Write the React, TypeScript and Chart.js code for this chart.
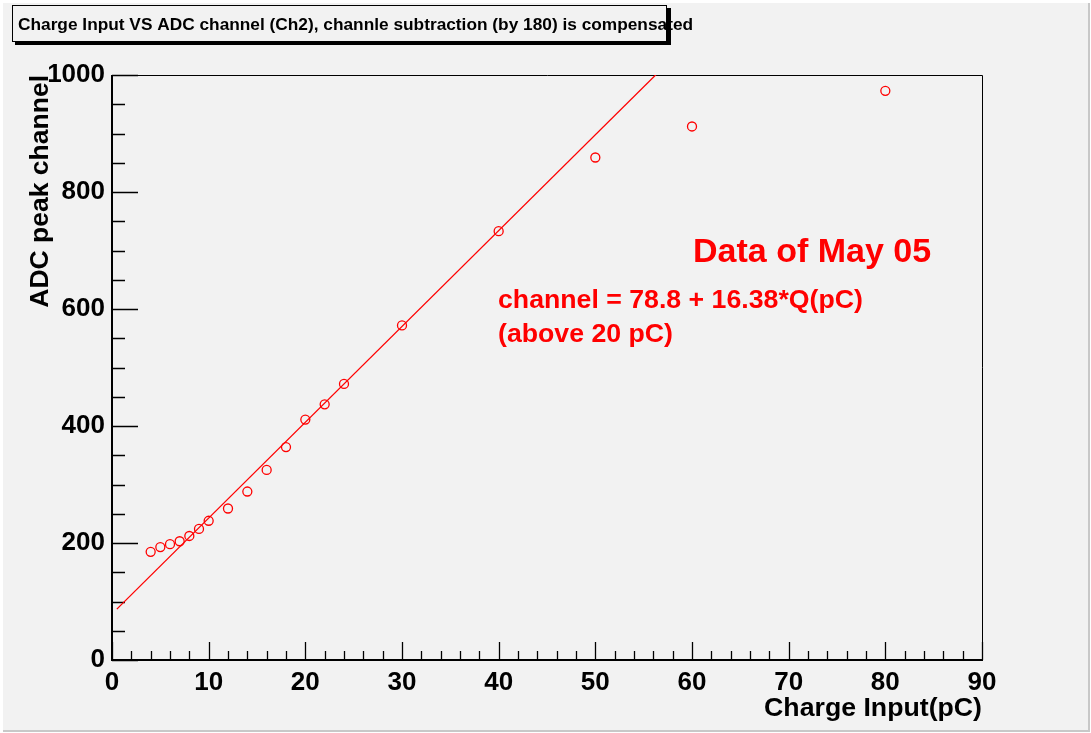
import React, { useEffect, useRef } from "react";
import { Chart, registerables } from "chart.js";

Chart.register(...registerables);

// ---- data ----
const chargeInput = [4, 5, 6, 7, 8, 9, 10, 12, 14, 16, 18, 20, 22, 24, 30, 40, 50, 60, 80];
const adcPeak = [185, 193, 198, 203, 212, 224, 238, 259, 288, 325, 364, 411, 437, 472, 572, 733, 859, 912, 973];
const fitIntercept = 78.8;
const fitSlope = 16.38;
const fitRange = [0.5, 60];
const xTicks = [0, 10, 20, 30, 40, 50, 60, 70, 80, 90];
const yTicks = [0, 200, 400, 600, 800, 1000];
const xMinorStep = 2;
const yMinorStep = 50;
const chartTitle = "Charge Input VS ADC channel (Ch2), channle subtraction (by 180) is compensated";
const xTitle = "Charge Input(pC)";
const yTitle = "ADC peak channel";
const noteMain = "Data of May 05";
const noteFit = "channel = 78.8 + 16.38*Q(pC)";
const noteRange = "(above 20 pC)";

const FAMILY = "'Liberation Sans', Arial, Helvetica, sans-serif";
const BG = "#f2f2f2";
const RED = "#ff0000";

const rootStyle = {
  id: "rootStyle",
  beforeDraw(chart: any) {
    const ctx = chart.ctx;
    const W = chart.width;
    const H = chart.height;
    ctx.save();
    ctx.fillStyle = "#ffffff";
    ctx.fillRect(0, 0, W, H);
    ctx.fillStyle = BG;
    ctx.fillRect(3, 3, W - 4, H - 4);
    ctx.strokeStyle = "#c8c8c8";
    ctx.lineWidth = 2;
    ctx.beginPath();
    ctx.moveTo(W - 2, 3);
    ctx.lineTo(W - 2, H - 2);
    ctx.lineTo(3, H - 2);
    ctx.stroke();
    ctx.restore();
  },
  beforeDatasetsDraw(chart: any) {
    const ctx = chart.ctx;
    const xs = chart.scales.x;
    const ys = chart.scales.y;
    const { left, right, top, bottom } = chart.chartArea;
    ctx.save();
    ctx.strokeStyle = "#000";
    // frame
    ctx.lineWidth = 1;
    ctx.beginPath();
    ctx.moveTo(left, top + 0.5);
    ctx.lineTo(right + 0.5, top + 0.5);
    ctx.lineTo(right + 0.5, bottom);
    ctx.stroke();
    ctx.lineWidth = 2;
    ctx.beginPath();
    ctx.moveTo(left, top);
    ctx.lineTo(left, bottom);
    ctx.lineTo(right + 1, bottom);
    ctx.stroke();
    // ticks (inward)
    ctx.lineWidth = 1.3;
    ctx.beginPath();
    for (let v = ys.min; v <= ys.max + 1e-9; v += yMinorStep) {
      const py = Math.round(ys.getPixelForValue(v)) + 0.5;
      const major = yTicks.includes(v);
      ctx.moveTo(left, py);
      ctx.lineTo(left + (major ? 26 : 13), py);
    }
    for (let v = xs.min; v <= xs.max + 1e-9; v += xMinorStep) {
      const px = Math.round(xs.getPixelForValue(v)) + 0.5;
      const major = xTicks.includes(v);
      ctx.moveTo(px, bottom);
      ctx.lineTo(px, bottom - (major ? 18 : 9));
    }
    ctx.stroke();
    ctx.restore();
  },
  afterDraw(chart: any) {
    const ctx = chart.ctx;
    ctx.save();
    // title box with shadow
    ctx.fillStyle = "#000";
    ctx.fillRect(15, 8, 656, 37);
    ctx.fillStyle = BG;
    ctx.fillRect(12, 5, 655, 37);
    ctx.strokeStyle = "#000";
    ctx.lineWidth = 1;
    ctx.strokeRect(12.5, 5.5, 654, 36);
    ctx.fillStyle = "#000";
    ctx.font = `bold 17.3px ${FAMILY}`;
    ctx.textBaseline = "alphabetic";
    ctx.textAlign = "left";
    ctx.fillText(chartTitle, 18, 30);
    // annotations
    ctx.fillStyle = RED;
    ctx.font = `bold 34px ${FAMILY}`;
    ctx.fillText(noteMain, 693, 262);
    ctx.font = `bold 26.7px ${FAMILY}`;
    ctx.fillText(noteFit, 498, 308);
    ctx.fillText(noteRange, 498, 342);
    ctx.restore();
  },
};

export default function App() {
  const ref = useRef<HTMLCanvasElement | null>(null);

  useEffect(() => {
    if (!ref.current) return;
    const pointData = chargeInput.map((x, i) => ({ x, y: adcPeak[i] }));
    const fitData = fitRange.map((x) => ({ x, y: fitIntercept + fitSlope * x }));
    const tickFont = { family: FAMILY, size: 26, weight: "bold" as const };
    const chart = new Chart(ref.current, {
      type: "scatter",
      data: {
        datasets: [
          {
            label: "fit",
            data: fitData,
            showLine: true,
            borderColor: RED,
            borderWidth: 1.3,
            pointRadius: 0,
            pointHoverRadius: 0,
            fill: false,
          },
          {
            label: "data",
            data: pointData,
            showLine: false,
            pointStyle: "circle",
            pointRadius: 4.5,
            pointBorderWidth: 1.3,
            borderColor: RED,
            backgroundColor: "rgba(0,0,0,0)",
            pointBackgroundColor: "rgba(0,0,0,0)",
            pointBorderColor: RED,
          },
        ],
      },
      options: {
        responsive: false,
        animation: false,
        devicePixelRatio: 1,
        layout: { padding: { left: 25, right: 109, top: 75, bottom: 8 } },
        plugins: {
          legend: { display: false },
          title: { display: false },
          tooltip: { enabled: false },
        },
        events: [],
        scales: {
          x: {
            type: "linear",
            position: "bottom",
            min: 0,
            max: 90,
            afterBuildTicks: (s: any) => {
              s.ticks = xTicks.map((value) => ({ value }));
            },
            afterFit: (s: any) => {
              s.height = 65;
            },
            grid: { display: false, drawTicks: false },
            border: { display: false },
            ticks: {
              font: tickFont,
              color: "#000",
              padding: 7,
              maxRotation: 0,
              autoSkip: false,
              callback: (v: any) => String(v),
            },
            title: {
              display: true,
              text: xTitle,
              align: "end",
              color: "#000",
              font: { family: FAMILY, size: 26.7, weight: "bold" as const },
              padding: 0,
            },
          },
          y: {
            type: "linear",
            position: "left",
            min: 0,
            max: 1000,
            afterBuildTicks: (s: any) => {
              s.ticks = yTicks.map((value) => ({ value }));
            },
            afterFit: (s: any) => {
              s.width = 87;
            },
            grid: { display: false, drawTicks: false },
            border: { display: false },
            ticks: {
              font: tickFont,
              color: "#000",
              padding: 7,
              autoSkip: false,
              callback: (v: any) => String(v),
            },
            title: {
              display: true,
              text: yTitle,
              align: "end",
              color: "#000",
              font: { family: FAMILY, size: 26.5, weight: "bold" as const },
              padding: 0,
            },
          },
        },
      },
      plugins: [rootStyle],
    });
    return () => chart.destroy();
  }, []);

  return (
    <div style={{ position: "absolute", left: 0, top: 0, width: 1091, height: 733 }}>
      <canvas ref={ref} width={1091} height={733} style={{ display: "block", width: 1091, height: 733 }} />
    </div>
  );
}
